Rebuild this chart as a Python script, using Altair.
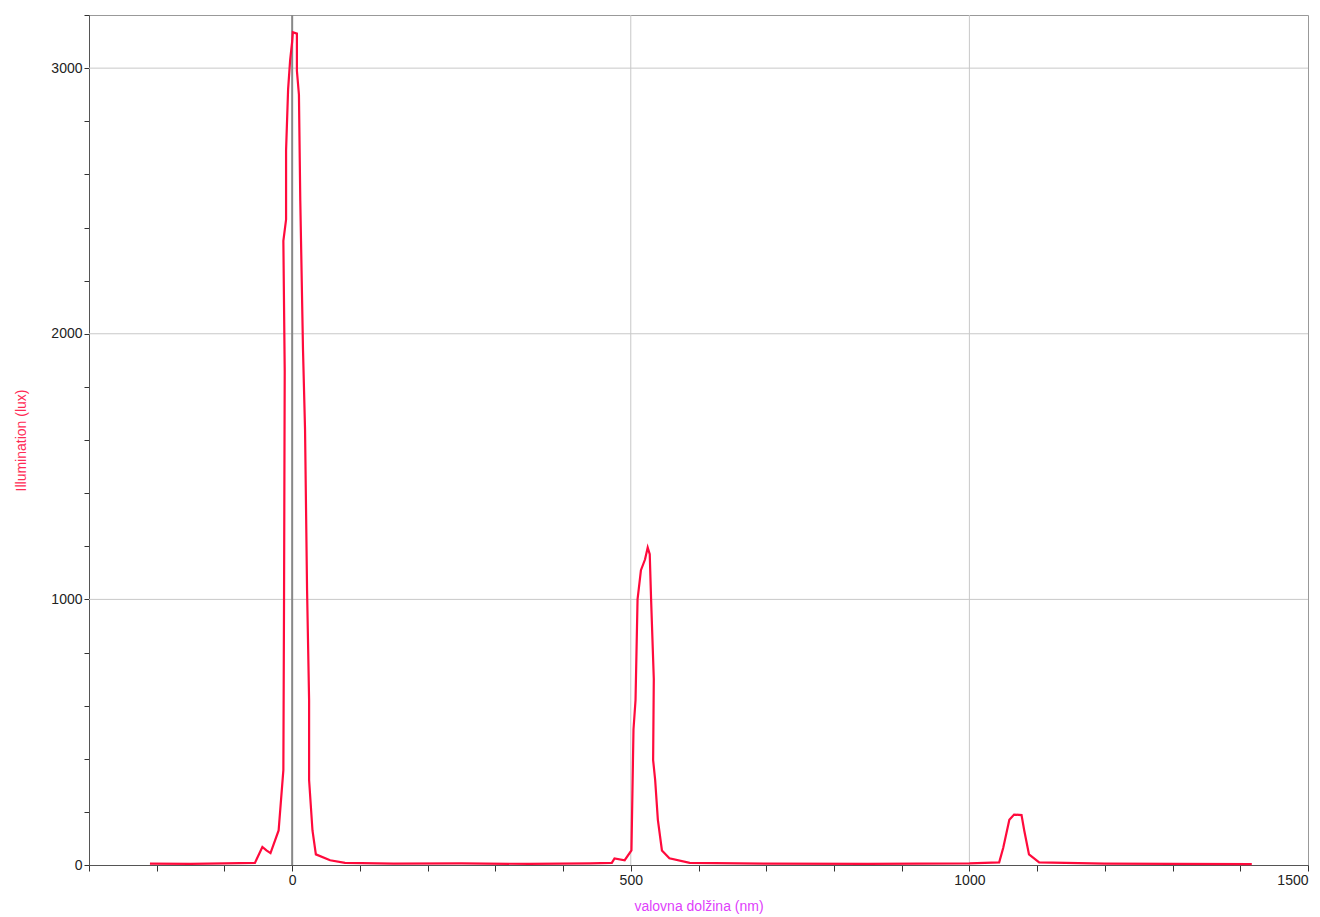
import pandas as pd
import altair as alt

wavelength = [-210, -150, -100, -55, -44, -38, -32, -20, -13, -12, -11, -13, -9, -9, -6, -3, 0, 1, 7, 7, 10, 12, 16, 19, 22, 25, 25, 30, 35, 56, 78,
              150, 250, 350, 440, 472, 476, 491, 501, 504, 507, 510, 515, 521, 525, 528, 530, 534, 533, 536, 540, 546, 557, 587,
              700, 850, 1000, 1044, 1050, 1059, 1066, 1077, 1081, 1088, 1103, 1200, 1300, 1417]
illumination = [5, 4, 6, 8, 68, 55, 45, 130, 357, 1000, 1860, 2350, 2430, 2690, 2920, 3030, 3100, 3135, 3130, 2990, 2900, 2500, 1940, 1640, 1035, 620, 320, 130, 40, 18, 8,
                5, 6, 4, 6, 8, 25, 18, 55, 510, 620, 1000, 1110, 1150, 1195, 1170, 1000, 700, 395, 320, 170, 55, 25, 8,
                5, 4, 6, 10, 65, 170, 190, 188, 130, 40, 10, 5, 4, 3]
x_grid = [500, 1000]
y_grid = [1000, 2000, 3000]

df = pd.DataFrame({"x": wavelength, "y": illumination, "i": range(len(wavelength))})

font = "Liberation Sans"
xs = alt.Scale(domain=[-300, 1500], nice=False)
ys = alt.Scale(domain=[0, 3200], nice=False)

line = alt.Chart(df).mark_line(color="#ff0a3c", strokeWidth=2.2).encode(
    x=alt.X("x:Q", scale=xs,
            axis=alt.Axis(title="valovna dolžina (nm)", titleColor="#e040fb", values=list(range(-300, 1501, 100)),
                          labelExpr="datum.value % 500 == 0 ? datum.value : ''", tickSize=6, tickColor="#333",
                          domainColor="#555", labelColor="#222", grid=False, labelFontSize=14,
                          titleFontSize=14, titleFontWeight="normal", labelFont=font, titleFont=font, titlePadding=12)),
    y=alt.Y("y:Q", scale=ys,
            axis=alt.Axis(title="Illumination (lux)", titleColor="#ff2a55", values=list(range(0, 3201, 200)),
                          labelExpr="datum.value % 1000 == 0 ? datum.value : ''", tickSize=5, tickColor="#333",
                          domainColor="#555", labelColor="#222", grid=False, labelFontSize=14,
                          titleFontSize=14, titleFontWeight="normal", labelFont=font, titleFont=font, titlePadding=22)),
    order="i:Q",
)

xg = alt.Chart(pd.DataFrame({"x": x_grid})).mark_rule(color="#c8c8c8").encode(x=alt.X("x:Q", scale=xs))
yg = alt.Chart(pd.DataFrame({"y": y_grid})).mark_rule(color="#c8c8c8").encode(y=alt.Y("y:Q", scale=ys))
zero = alt.Chart(pd.DataFrame({"x": [0]})).mark_rule(color="#888", strokeWidth=2).encode(x=alt.X("x:Q", scale=xs))

chart = alt.layer(xg, yg, zero, line).properties(
    width=1219, height=850, autosize=alt.AutoSizeParams(type="none"),
    padding={"left": 81, "top": 7, "right": 4, "bottom": 50}, background="white"
).configure_view(stroke="#999")

chart.save("out.html", embed_options={"renderer": "svg", "actions": False})
